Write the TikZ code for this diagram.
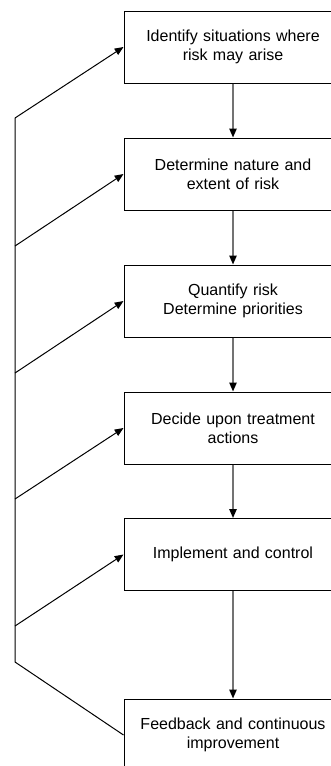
\documentclass[tikz,border=0pt]{standalone}
\usepackage{fontspec}
\setmainfont{Liberation Sans}
\usetikzlibrary{arrows.meta}
\begin{document}
\begin{tikzpicture}[x=0.5pt,y=-0.5pt,line width=0.5pt,
  stepbox/.style={draw, rectangle, minimum width=109pt, minimum height=36pt, text width=100pt, align=center, font=\fontsize{8}{9.7}\selectfont, inner sep=0pt},
  tip/.style={-{Triangle[length=4.4pt,width=3.6pt,color=black]}},
  flow/.style={tip, draw=gray!90!black, line width=0.75pt}]
\clip (0,0) rectangle (331,766);
\node[stepbox] (1) at (233,47) {Identify situations where\\risk may arise};
\node[stepbox] (2) at (233,174) {Determine nature and\\extent of risk};
\node[stepbox] (3) at (233,301) {Quantify risk\\Determine priorities};
\node[stepbox] (4) at (233,428) {Decide upon treatment\\actions};
\node[stepbox] (5) at (233,554.5) {Implement and control};
\node[stepbox] (6) at (233,735) {Feedback and continuous\\improvement};
\coordinate (a) at (15,118);
\coordinate (b) at (15,246);
\coordinate (c) at (15,373);
\coordinate (d) at (15,499);
\coordinate (e) at (15,626);
\coordinate (f) at (15,662);

\path[flow] (1) -- (2);
\path[flow] (2) -- (3);
\path[flow] (3) -- (4);
\path[flow] (4) -- (5);
\path[flow] (5) -- (6);

%feedback
\path[draw] (a) -- (f) -- (6.west);
\path[draw,tip] (a) -- (1.west);
\path[draw,tip] (b) -- (2.west);
\path[draw,tip] (c) -- (3.west);
\path[draw,tip] (d) -- (4.west);
\path[draw,tip] (e) -- (5.west);
\end{tikzpicture}
\end{document}
